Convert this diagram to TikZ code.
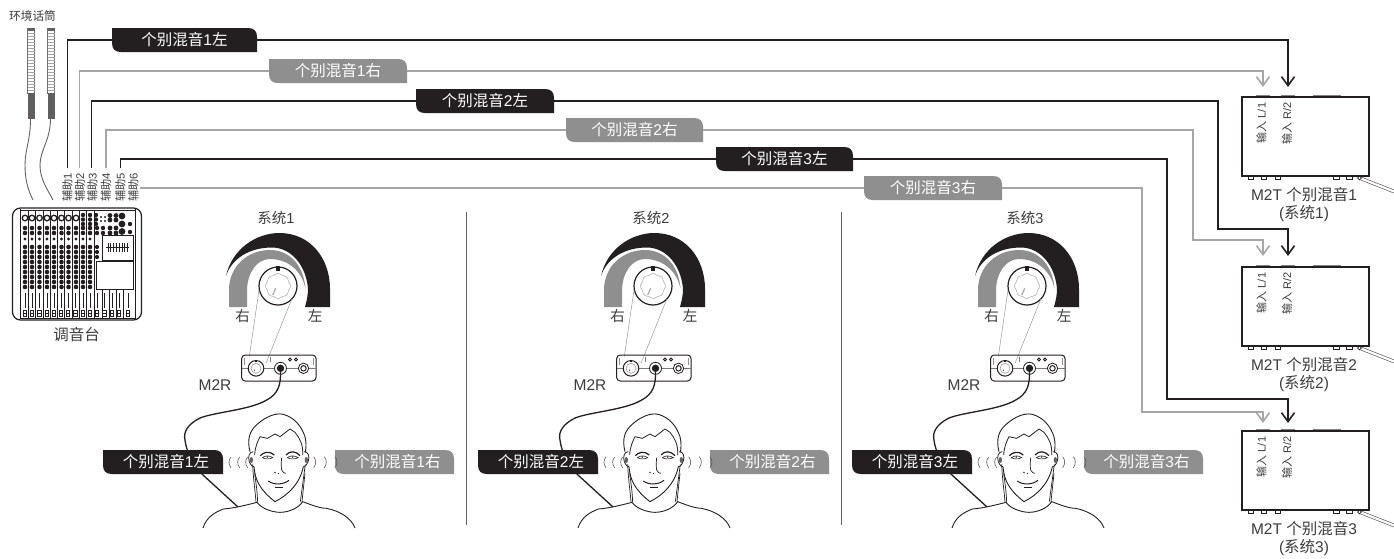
\documentclass[tikz,border=0pt]{standalone}
\usepackage{fontspec}
\setmainfont{Liberation Sans}
\newfontfamily\cjk{Noto Sans CJK SC}
\newcommand\zh[1]{{\cjk #1}}
\usetikzlibrary{arrows.meta,calc}
\definecolor{blk}{HTML}{231F20}
\definecolor{grayline}{HTML}{A6A6A6}
\definecolor{graytag}{HTML}{8F8F8F}
\definecolor{txt}{HTML}{3C3C3C}
\tikzset{
  x=1pt,y=-1pt,
  blackwire/.style={draw=blk,line width=1.6pt},
  graywire/.style={draw=grayline,line width=1.6pt},
  tip/.style={-{Straight Barb[length=9pt,width=13pt,line width=1.6pt]}},
  tagtext/.style={text=white,inner sep=0pt,outer sep=0pt,font=\fontsize{15.5}{18}\selectfont},
  lab/.style={text=txt,inner sep=0pt,outer sep=0pt,align=center,font=\fontsize{15.5}{20}\selectfont},
  auxlab/.style={text=txt,inner sep=1pt,outer sep=0pt,rotate=90,font=\fontsize{11.2}{12}\selectfont},
  inlab/.style={text=txt,inner sep=0pt,outer sep=0pt,rotate=90,font=\fontsize{11}{12}\selectfont},
  wave/.style={draw=blk!75,line width=.6pt},
}
% name, x1, y1, x2, y2, colour, text, text shift
\newcommand\tagnode[8]{%
  \fill[#6] (#2,#3) -- (#4-9,#3) .. controls (#4-3,#3) and (#4,#3+3) .. (#4,#3+9)
    -- (#4,#5) -- (#2+9,#5) .. controls (#2+3,#5) and (#2,#5-3) .. (#2,#5-9) -- cycle;
  \node[tagtext,minimum width=#4pt-#2pt,minimum height=#5pt-#3pt] (#1) at ({(#2+#4)/2+#8},{(#3+#5)/2}) {#7};
}
\begin{document}
\begin{tikzpicture}
\useasboundingbox (0,0) rectangle (1394,558);
\fill[white] (0,0) rectangle (1394,558);

% ---- microphones
\node[lab,font=\fontsize{11.7}{12}\selectfont] (amb) at (32.5,16) {\zh{环境话筒}};
\foreach \mx/\ex/\my in {27.5/33/25,47.5/53/40}{
  \draw[draw=blk!65,line width=.7pt,fill=white] (\mx,28) rectangle (\mx+7,93);
  \fill[blk!70] (\mx,28) rectangle (\mx+7,31);
  \foreach \k in {0,...,19}{\draw[blk!40,line width=.35pt] (\mx,33+\k*3) -- (\mx+7,33+\k*3);}
  \fill[blk!72] (\mx,93) rectangle (\mx+7,119);
  \draw[blk!70,line width=.9pt] (\mx+3,119) .. controls (\mx+3,140) and (\my,150) .. (\my,165) .. controls (\my,180) and (\ex-5,190) .. (\ex,200);
}

% ---- mixer
\draw[blk,line width=1.2pt,rounded corners=8pt] (12.5,208) rectangle (141.5,320);
\draw[blk,line width=.8pt] (20,209) -- (20,319) (135,209) -- (135,319) (20,210) -- (135,210) (20,318) -- (135,318);
\foreach \lx in {28.5,35.5,43,50,57.5,64.5,72,79.5,86.5,94}{\draw[blk,line width=.5pt] (\lx,211) -- (\lx,318);}
\foreach \cx in {25,32,39.5,47,54,61.5,68.5,76}{
  \draw[blk,line width=1.3pt,fill=white] (\cx,218) circle (2.8);
}
\foreach \cx in {25,32,39.5,47,54,61.5,68.5,76,83,90}{
  \foreach \ry in {228,233,247,252,257,262,267,272,277,282,287}{\fill[blk] (\cx,\ry) circle (2.3);}
  \fill[blk] (\cx,239) circle (1.7);
}
\foreach \cx in {83,90,96}{\foreach \ry in {215,219.5,224}{\fill[blk] (\cx,\ry) circle (2.2);}}
\foreach \cx in {101,105}{\foreach \ry in {217,221}{\fill[blk] (\cx,\ry) circle (1.2);}}
\foreach \cx in {110,116}{\foreach \ry in {215.5,220,228,233}{\fill[blk] (\cx,\ry) circle (2.4);}}
\foreach \cx in {97,103}{\foreach \ry in {228,233}{\fill[blk] (\cx,\ry) circle (2.2);}}
\foreach \ry in {216,224,231.5}{\fill[blk] (122,\ry) circle (3.4);}
\foreach \ry in {224,232}{\fill[blk] (130,\ry) circle (2.2);}
\foreach \ry in {247,252,257}{\fill[blk] (97,\ry) circle (2.1);}
\draw[blk,line width=1pt,fill=white] (102,235) rectangle (133,260);
\draw[blk,line width=1pt,fill=white] (96,261) rectangle (133,289);
\draw[blk,line width=.7pt] (106,247.5) -- (129,247.5);
\foreach \k in {0,...,7}{\draw[blk,line width=.7pt] (108+\k*2.8,243) -- (108+\k*2.8,252);}
\foreach \lx in {102,109,116,123}{\draw[blk,line width=.6pt] (\lx,290) -- (\lx,318);}
\foreach \cx in {25,32,39.5,47,54,61,68,75.5,83,90,97,104.5,112,119,128}{
  \draw[blk,line width=.8pt] (\cx,293) -- (\cx,308);
  \draw[blk,line width=.7pt,fill=white] (\cx-1.7,310) rectangle (\cx+1.7,316);
  \draw[blk,line width=.5pt] (\cx-1.7,313) -- (\cx+1.7,313);
}
\node[lab] (mix) at (76.5,335) {\zh{调音台}};

% ---- aux labels and wire ends
\foreach \i/\ax in {1/67.5,2/80,3/92.5,4/106,5/120.5,6/133.5}{
  \node[auxlab] (aux\i) at (\ax,187.5) {\zh{辅助}\i};
}
\coordinate (a1) at (67.5,168);
\coordinate (a2) at (79.5,168);
\coordinate (a3) at (91.5,168);
\coordinate (a4) at (106,168);
\coordinate (a5) at (120.5,168);

% ---- routing tags
\tagnode{t1}{112}{28}{257}{52}{blk}{\zh{个别混音}1\zh{左}}{0}
\tagnode{t2}{269}{59}{407}{83}{graytag}{\zh{个别混音}1\zh{右}}{0}
\tagnode{t3}{416}{89}{554}{113}{blk}{\zh{个别混音}2\zh{左}}{0}
\tagnode{t4}{566}{118}{703}{142}{graytag}{\zh{个别混音}2\zh{右}}{0}
\tagnode{t5}{716}{147}{853}{171}{blk}{\zh{个别混音}3\zh{左}}{0}
\tagnode{t6}{864}{176}{1002}{200}{graytag}{\zh{个别混音}3\zh{右}}{0}

% ---- M2T boxes
\foreach \by/\n in {0/1,170/2,334/3}{
  \begin{scope}[yshift=-\by pt]
    \foreach \tx in {1256,1281,1313,1327}{\fill[blk!55] (\tx,95) rectangle (\tx+13.5,97);}
    \foreach \tx/\tw in {1248.5/4.5,1261/5.5,1275/5.5,1333/6,1346/6}{\draw[blk,line width=.6pt,fill=white] (\tx,176) rectangle (\tx+\tw,179.5);}
    \draw[blk!70,line width=3.6pt] (1361,178.5) -- (1394,191.5);
    \draw[white,line width=2.2pt] (1361,178.5) -- (1394,191.5);
    \draw[blk,line width=.7pt,fill=white] (1359.5,178) circle (1.9);
    \node[draw=blk,line width=1.2pt,fill=white,minimum width=127pt,minimum height=79pt,inner sep=0pt,outer sep=0pt] (box\n) at (1305.5,136.5) {};
    \node[inlab] (inl\n) at (1261.5,123) {\zh{输入} L/1};
    \node[inlab] (inr\n) at (1287,123) {\zh{输入} R/2};
    \node[lab] (m2t\n) at (1304,195) {M2T \zh{个别混音}\n};
    \node[lab] (sys\n) at (1304,214) {(\zh{系统}\n)};
  \end{scope}
}
\coordinate (R1) at (1288,87);
\coordinate (L1) at (1263,87);
\coordinate (R2) at (1288,256);
\coordinate (L2) at (1263,256);
\coordinate (R3) at (1288,423);
\coordinate (L3) at (1263,423);
\coordinate (c3) at (1218,229);
\coordinate (c4) at (1193,240);
\coordinate (c5) at (1167,399);
\coordinate (c6) at (1142,412);

% ---- connectors
\draw[blackwire] (a1) |- (t1.west);
\draw[blackwire,tip] (t1.east) -| (R1);
\draw[graywire] (a2) |- (t2.west);
\draw[graywire,tip] (t2.east) -| (L1);
\draw[blackwire] (a3) |- (t3.west);
\draw[blackwire,tip] (t3.east) -| (c3) -| (R2);
\draw[graywire] (a4) |- (t4.west);
\draw[graywire,tip] (t4.east) -| (c4) -| (L2);
\draw[blackwire] (a5) |- (t5.west);
\draw[blackwire,tip] (t5.east) -| (c5) -| (R3);
\draw[graywire] (aux6.south |- t6.west) -- (t6.west);
\draw[graywire,tip] (t6.east) -| (c6) -| (L3);

% ---- dividers
\draw[blk!70,line width=.8pt] (466,212) -- (466,525);
\draw[blk!70,line width=.8pt] (841,212) -- (841,525);

% ---- the three systems
\foreach \sx/\n in {0/1,375/2,749/3}{
\begin{scope}[xshift=\sx pt]
  \node[lab,font=\fontsize{14.5}{16}\selectfont] (title\n) at (276,218) {\zh{系统}\n};
  % level arcs, relative to the knob centre
  \begin{scope}[shift={(278,286)}]
    \fill[blk] (-52,-10) .. controls (-46,-37) and (-22,-53) .. (1.5,-53) .. controls (32,-53) and (52,-28) .. (52,3) -- (52,21) -- (27,21) .. controls (29,14) and (30,8) .. (30,3) .. controls (28,-22) and (12,-38.5) .. (-6,-38.5) .. controls (-28,-38.5) and (-46,-28) .. (-52,-10) -- cycle;
    \fill[graytag] (-49,21) -- (-49,4) .. controls (-49,-20) and (-30,-36) .. (-8,-36) .. controls (12,-36) and (26,-20) .. (27.5,3) .. controls (24,-15) and (10,-27) .. (-8,-27) .. controls (-22,-27) and (-31,-12) .. (-31,5) -- (-31,21) -- cycle;
    \draw[blk,line width=1.2pt,fill=white] (0,0) circle (19);
    \fill[blk] (-2,-20) rectangle (2,-15);
    \draw[blk!35,line width=.6pt] plot[domain=0:360,samples=73,smooth] ({(12+.5*cos(8*\x))*cos(\x)},{(12+.5*cos(8*\x))*sin(\x)});
    \draw[blk!35,line width=1.4pt] (-5.3,9) -- (-2.3,2.3);
    \draw[blk!45,line width=.5pt] (-19,4) -- (-28.7,70.7);
    \draw[blk!45,line width=.5pt] (13.7,13.3) -- (-12,77.3);
  \end{scope}
  \node[lab,font=\fontsize{14.5}{16}\selectfont] (rt\n) at (242.7,315.5) {\zh{右}};
  \node[lab,font=\fontsize{14.5}{16}\selectfont] (lt\n) at (315,315.5) {\zh{左}};
  % M2R receiver
  \draw[blk,line width=1pt,rounded corners=3.5pt] (241.7,355) rectangle (316,381);
  \draw[blk!50,line width=.5pt] (244.5,358) -- (244.5,365) (313,358) -- (313,365);
  \draw[blk!60,line width=.5pt] (242,368.3) -- (316,368.3);
  \draw[blk,line width=1pt,fill=white] (256,368.3) circle (7.8);
  \draw[blk!50,line width=.5pt] (256,368.3) circle (5);
  \fill[blk] (255.4,360) rectangle (256.6,362);
  \draw[blk,line width=.5pt] (254,371) -- (255,369.5);
  \draw[blk!60,line width=.5pt] (270.5,356.5) -- (270.5,362);
  \draw[blk,line width=.8pt] (290,359.5) circle (1.5) (296,359.5) circle (1.5);
  \draw[blk,line width=.8pt,fill=white] (280.5,368.3) circle (6);
  \fill[blk] (280.5,368.3) circle (3.7);
  \draw[blk,line width=.8pt,fill=white] (303.5,368.3) circle (5.2);
  \draw[blk,line width=1pt] (303.5,368.3) circle (2.7);
  \node[lab] (mr\n) at (215,385.5) {M2R};
  % cable
  \draw[blk,line width=1.3pt] (280.5,371) .. controls (281,385) and (278,394) .. (266.7,400) .. controls (250,410) and (215,412) .. (200,418) .. controls (188,424) and (183,432) .. (185,440) .. controls (186,450) and (192,463) .. (203,475) -- (238,507);
  % head (coordinates as in a 3x crop)
  \begin{scope}[shift={(180,405)},scale=.3333]
    \draw[blk,line width=.9pt] (210,140) .. controls (200,100) and (210,75) .. (235,55) .. controls (255,38) and (285,22) .. (310,28) .. controls (345,38) and (365,65) .. (375,95) .. controls (380,115) and (378,130) .. (376,142);
    \draw[blk,line width=.8pt] (224,150) .. controls (225,125) and (235,105) .. (240,95) -- (262,100) -- (285,87) -- (300,95) -- (330,72) -- (345,82) .. controls (360,100) and (370,120) .. (368,150);
    \draw[blk,line width=.9pt] (222,185) .. controls (225,225) and (240,255) .. (285,290) .. controls (325,270) and (360,235) .. (370,185);
    % ears with small buds
    \draw[blk,line width=.8pt] (220,140) .. controls (208,140) and (203,155) .. (208,170) .. controls (212,180) and (220,188) .. (222,184);
    \draw[blk,line width=.8pt] (372,140) .. controls (384,138) and (390,155) .. (385,168) .. controls (381,180) and (372,188) .. (370,184);
    \fill[blk!70] (214,165) ellipse (5 and 9);
    \fill[blk!70] (379,165) ellipse (5 and 9);
    \draw[blk,line width=.7pt] (218,178) .. controls (220,225) and (226,260) .. (228,292);
    \draw[blk,line width=.7pt] (224,205) .. controls (228,235) and (232,260) .. (233,292);
    \draw[blk,line width=.7pt] (376,178) -- (361,290);
    \draw[blk,line width=.7pt] (375,205) -- (366,290);
    \draw[blk,line width=.9pt] (69,369) .. controls (80,335) and (105,322) .. (130,312) .. controls (160,310) and (200,300) .. (231,292) .. controls (245,312) and (280,322) .. (300,322) .. controls (325,322) and (355,310) .. (368,290) .. controls (395,300) and (420,310) .. (440,310) .. controls (480,318) and (515,340) .. (525,369);
    % face
    \draw[blk,line width=1.2pt] (241,152) .. controls (250,142) and (268,136) .. (283,150);
    \draw[blk,line width=1.2pt] (318,150) .. controls (330,136) and (348,138) .. (360,152);
    \draw[blk,line width=.6pt] (247,158) .. controls (255,151) and (270,151) .. (278,158) .. controls (270,163) and (255,163) .. (247,158);
    \draw[blk,line width=.6pt] (322,158) .. controls (330,151) and (345,151) .. (355,158) .. controls (345,163) and (330,163) .. (322,158);
    \fill[blk] (262,156) circle (2.6) (338,156) circle (2.6);
    \draw[blk,line width=.7pt] (305,158) .. controls (303,175) and (304,190) .. (305,195) .. controls (308,203) and (314,205) .. (318,205);
    \draw[blk,line width=.8pt] (283,201) -- (287,204) (294,205) -- (297,206);
    \draw[blk,line width=1pt] (265,228) .. controls (280,240) and (310,240) .. (327,226);
    \draw[blk,line width=.7pt] (285,248) -- (310,248);
    % sound
    \draw[wave] (153,156) .. controls (145,165) and (145,178) .. (153,188);
    \draw[wave] (179,156) .. controls (171,165) and (171,178) .. (179,188);
    \draw[wave] (203,156) .. controls (195,165) and (195,178) .. (203,188);
    \draw[wave] (401,155) .. controls (409,165) and (409,178) .. (401,188);
    \draw[wave] (433,155) .. controls (441,165) and (441,178) .. (433,188);
  \end{scope}
  \tagnode{sl\n}{103}{450}{223}{474}{blk}{\zh{个别混音}\n\zh{左}}{3}
  \tagnode{sr\n}{335}{450}{454}{474}{graytag}{\zh{个别混音}\n\zh{右}}{3}
  \begin{scope}[shift={(180,405)},scale=.3333]
    \draw[wave] (465,155) .. controls (473,165) and (473,178) .. (465,188);
  \end{scope}
\end{scope}
}
\end{tikzpicture}
\end{document}
